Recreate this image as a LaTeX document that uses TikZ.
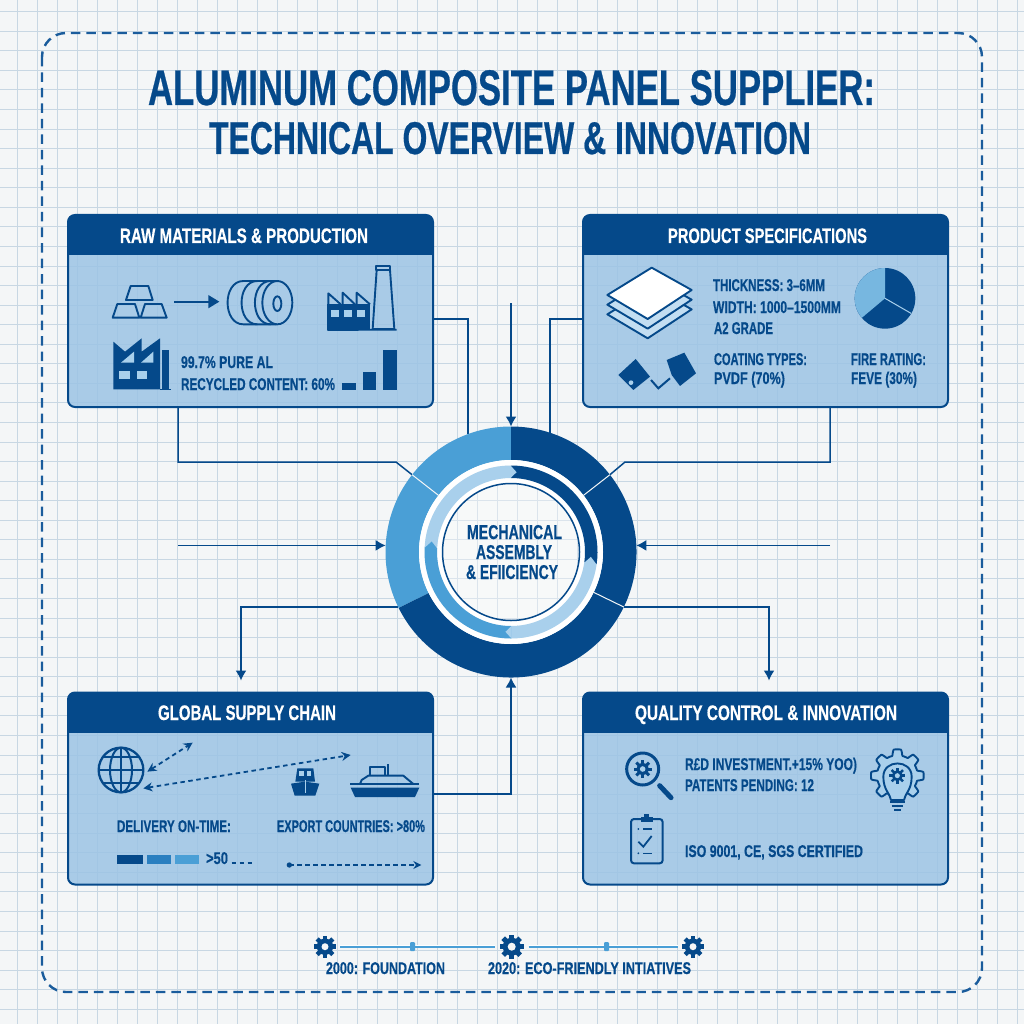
\documentclass[tikz,border=0pt]{standalone}
\usepackage{fontspec}
\usepackage{graphicx}
\setmainfont{Liberation Sans}[BoldFeatures={FakeBold=0.6}]
\usetikzlibrary{arrows.meta,calc}
\definecolor{navy}{HTML}{05498A}
\definecolor{midblue}{HTML}{2A7FC0}
\definecolor{sky}{HTML}{4A9FD6}
\definecolor{pale}{HTML}{A9D0EC}
\definecolor{panelfill}{HTML}{9CC4E5}
\definecolor{paper}{HTML}{F4F6F7}
\definecolor{gridc}{HTML}{C8D7E3}
\definecolor{framec}{HTML}{1A5C9C}
\newsavebox\tbox
% text fitted to a measured width: [colour]{name}{x}{baseline}{width}{size}{text}
\newcommand\lab[7][navy]{%
  \node (#2) [anchor=base west,inner sep=0pt,outer sep=0pt,text=#1] at (#3,#4) {%
    \sbox\tbox{\fontsize{#6}{#6}\selectfont\bfseries #7}%
    \pgfmathsetmacro\fx{#5/\wd\tbox}%
    \scalebox{\fx}[1]{\usebox\tbox}};}
\newcommand\sector[5]{\fill[#5] (#1:#3pt) arc[start angle=#1,end angle=#2,radius=#3pt] -- (#2:#4pt) arc[start angle=#2,end angle=#1,radius=#4pt] -- cycle;}
\newcommand\gearicon[8]{\begin{scope}[shift={(#1,#2)}]
  \fill[#7] (0,0) circle[radius=#3pt];
  \foreach \a in {0,45,...,315} {\draw[#7,line width=#5pt] (\a:0.7*#3pt) -- (\a:#4pt);}
  \fill[#8] (0,0) circle[radius=#6pt];
\end{scope}}
\newcommand\band[1]{%
  \fill[navy,rounded corners=7pt] (#1.north west) rectangle ([yshift=-20pt]#1.north east);
  \fill[navy] ([yshift=-10pt]#1.north west) rectangle ([yshift=-40pt]#1.north east);}
\tikzset{
  panelbox/.style={draw=navy,line width=2pt,rounded corners=7pt,fill=panelfill,fill opacity=.85,
    minimum width=365pt,minimum height=192pt,inner sep=0pt,outer sep=0pt},
  wire/.style={draw=navy,line width=1.5pt},
  wirearrow/.style={wire,-{Latex[length=10pt,width=11pt]}},
  ic/.style={draw=navy,line width=1.9pt,line join=round},
  dotarrow/.style={draw=navy,line width=1.8pt,dash pattern=on 4.5pt off 3.5pt},
  iconscope/.style={shift={#1},x=0.33333pt,y=-0.33333pt}
}
\begin{document}
\begin{tikzpicture}[x=1pt,y=-1pt]
\useasboundingbox (0,0) rectangle (1024,1024);
\fill[paper] (0,0) rectangle (1024,1024);
\foreach \i in {0,...,50} {\draw[gridc,line width=.9pt] ({17.6+20*\i},0) -- ({17.6+20*\i},1024);}
\foreach \i in {0,...,52} {\draw[gridc,line width=.9pt] (0,{11.7+19.56*\i}) -- (1024,{11.7+19.56*\i});}
\draw[framec,line width=2.4pt,dash pattern=on 9.5pt off 6pt,rounded corners=24pt] (42,33) rectangle (982,992);
% title
\lab{title1}{148}{105}{727}{50}{ALUMINUM COMPOSITE PANEL SUPPLIER:}
\lab{title2}{209}{154}{602}{46}{TECHNICAL OVERVIEW \& INNOVATION}
% panels
\node (raw)  [panelbox] at (250.5,311) {};
\node (spec) [panelbox] at (765.5,311) {};
\node (glob) [panelbox] at (250.5,788.5) {};
\node (qual) [panelbox] at (765.5,788.5) {};
\band{raw}\band{spec}\band{glob}\band{qual}
\lab[white]{rawT}{120}{243}{248}{21}{RAW MATERIALS \& PRODUCTION}
\lab[white]{specT}{668}{243}{199}{21}{PRODUCT SPECIFICATIONS}
\lab[white]{globT}{158}{720}{178}{21}{GLOBAL SUPPLY CHAIN}
\lab[white]{qualT}{635}{720}{262}{21}{QUALITY CONTROL \& INNOVATION}
% hub and connectors
\node (hub) [circle,minimum size=251pt,inner sep=0pt,outer sep=0pt] at (511,552) {};
\coordinate (topfree) at (511,303);
\coordinate (leftfree) at (178,545.5);
\coordinate (rightfree) at (830,545.5);
\coordinate (bendL) at (396,462);
\coordinate (bendR) at (625,462);
\draw[wire] ([yshift=-8pt]raw.east) -| (hub.110);
\draw[wire] ([yshift=-8pt]spec.west) -| (hub.72);
\draw[wirearrow] (topfree) -- (hub.north);
\draw[wire] ([xshift=-72.5pt]raw.south) |- (bendL) -- (hub.142);
\draw[wire] ([xshift=64.5pt]spec.south) |- (bendR) -- (hub.38);
\draw[wirearrow] (leftfree |- hub.177) -- (hub.177);
\draw[wirearrow] (rightfree |- hub.3) -- (hub.3);
\draw[wirearrow] (hub.206.5) -| ([xshift=-9.5pt,yshift=12pt]glob.north);
\draw[wirearrow] (hub.-26) -| ([xshift=3.5pt,yshift=12pt]qual.north);
\draw[wirearrow] ([yshift=-5.5pt]glob.east) -| (hub.south);
% ring
\begin{scope}[shift={(511,552)},x=1pt,y=1pt]
  \fill[white,opacity=.35] (0,0) circle[radius=92pt];
  \sector{90}{206.5}{125.5}{92}{sky}
  \sector{206.5}{450}{125.5}{92}{navy}
  \fill[white,even odd rule] (0,0) circle[radius=92pt] (0,0) circle[radius=86.5pt];
  \fill[white,even odd rule] (0,0) circle[radius=74pt] (0,0) circle[radius=69pt];
  \sector{-8}{90}{86.5}{74}{navy}
  \sector{-90}{-8}{86.5}{74}{pale}
  \sector{177}{270}{86.5}{74}{sky}
  \sector{90}{177}{86.5}{74}{pale}
  \fill[pale] (90.3:86.5pt) -- (86:80pt) -- (90.3:74pt) -- cycle;
  \fill[pale] (-8.3:86.5pt) -- (-3.5:80pt) -- (-8.3:74pt) -- cycle;
  \fill[pale] (-89.7:86.5pt) -- (-94:80pt) -- (-89.7:74pt) -- cycle;
  \fill[sky] (177.3:86.5pt) -- (172.5:80pt) -- (177.3:74pt) -- cycle;
  \draw[navy,line width=1.5pt] (0,0) circle[radius=68.5pt];
  \draw[paper,line width=1pt] (142:92pt) -- (142:125.5pt);
  \draw[paper,line width=1pt] (38:92pt) -- (38:125.5pt);
  \draw[paper,line width=1pt] (-26:92pt) -- (-26:125.5pt);
\end{scope}
\lab{hubA}{467}{539}{95}{20}{MECHANICAL}
\lab{hubB}{476}{559}{76}{20}{ASSEMBLY}
\lab{hubC}{466}{579}{92}{20}{\& EFIICIENCY}
% panel 1 icons
\begin{scope}[iconscope={(60,205)}]
  \draw[ic] (212,243) -- (265,243) -- (278,285) -- (198,285) -- cycle;
  \draw[ic] (172,297) -- (225,297) -- (238,338) -- (158,338) -- cycle;
  \draw[ic] (255,297) -- (305,297) -- (320,338) -- (242,338) -- cycle;
  \draw[navy,line width=2pt] (342,290) -- (450,290);
  \fill[navy] (478,290) -- (445,270) -- (445,310) -- cycle;
  \draw[ic] (650,228) -- (550,228) .. controls (487,228) and (487,358) .. (550,358) -- (650,358);
  \draw[ic] (652,293) ellipse [x radius=45,y radius=65];
  \draw[ic] (592,228) .. controls (529,228) and (529,358) .. (592,358);
  \draw[ic] (632,228) .. controls (569,228) and (569,358) .. (632,358);
  \draw[ic] (652,296) ellipse [x radius=12,y radius=22];
  % factory with chimney
  \draw[ic] (805,298) -- (805,265) -- (842,298);
  \draw[ic] (848,298) -- (848,263) -- (885,298);
  \draw[ic] (890,298) -- (890,263) -- (930,298);
  \fill[navy] (802,296) rectangle (930,375);
  \fill[pale] (813,316) rectangle (836,336);
  \fill[pale] (852,316) rectangle (876,336);
  \fill[pale] (892,316) rectangle (916,336);
  \draw[ic] (950,195) -- (990,195) -- (1003,372) -- (938,372) -- cycle;
  \draw[ic] (948,183) rectangle (990,195);
  \draw[navy,line width=1.8pt] (802,375) -- (1010,374);
  % factory filled
  \fill[navy] (160,410) -- (195,440) -- (245,400) -- (245,440) -- (300,400) -- (300,553) -- (160,553) -- cycle;
  \fill[pale] (183,473) -- (222,440) -- (222,473) -- cycle;
  \fill[pale] (243,473) -- (280,440) -- (280,473) -- cycle;
  \fill[pale] (178,497) rectangle (210,521);
  \fill[pale] (232,497) rectangle (262,521);
  \fill[navy] (305,435) rectangle (328,553);
  \draw[navy,line width=1.2pt] (300,553) -- (333,553);
  % bars
  \fill[navy] (847,533) rectangle (888,556);
  \fill[navy] (908,502) rectangle (949,556);
  \fill[navy] (969,436) rectangle (1010,556);
\end{scope}
\lab{a1}{181}{368}{92}{17}{99.7\% PURE AL}
\lab{a2}{181}{390}{154}{17}{RECYCLED CONTENT: 60\%}
% panel 2 icons
\begin{scope}[iconscope={(575,205)}]
  \draw[ic,fill=pale!70!white] (230,246) -- (350,313) -- (218,400) -- (97,328) -- cycle;
  \draw[ic,fill=pale!70!white] (230,217) -- (350,284) -- (218,371) -- (97,299) -- cycle;
  \draw[ic,fill=white] (230,188) -- (350,255) -- (218,342) -- (97,270) -- cycle;
  \fill[navy] (930,280) circle[radius=91];
  \fill[sky!75!white] (930,280) -- (930,189) arc[start angle=-90,end angle=-220,radius=91] -- cycle;
  \draw[pale,line width=1pt] (930,280) -- (1008,325);
  % swatches
  \fill[navy] (130,510) -- (182,462) -- (225,515) -- (175,555) -- cycle;
  \fill[pale] (168,533) circle[radius=7];
  \fill[navy] (275,465) -- (328,443) -- (363,505) -- (315,543) -- (290,510) -- cycle;
  \draw[navy,line width=2pt] (228,525) -- (250,550) -- (285,520);
\end{scope}
\lab{b1}{713}{291}{112}{17}{THICKNESS: 3–6MM}
\lab{b2}{713}{313}{128}{17}{WIDTH: 1000–1500MM}
\lab{b3}{714}{334}{59}{17}{A2 GRADE}
\lab{b4}{714}{365}{93}{17}{COATING TYPES:}
\lab{b5}{714}{384}{71}{17}{PVDF (70\%)}
\lab{b6}{851}{365}{75}{17}{FIRE RATING:}
\lab{b7}{851}{384}{66}{17}{FEVE (30\%)}
% panel 3 icons
\begin{scope}[iconscope={(60,685)}]
  \draw[navy,line width=2.3pt] (183,255) circle[radius=67];
  \draw[navy,line width=2pt] (183,255) ellipse [x radius=33,y radius=67];
  \draw[navy,line width=2pt] (183,188) -- (183,322);
  \draw[navy,line width=2pt] (116,255) -- (250,255);
  \draw[navy,line width=2pt] (130,215) -- (236,215);
  \draw[navy,line width=2pt] (130,295) -- (236,295);
  \coordinate (gA) at (262,260); \coordinate (gB) at (398,173);
  \coordinate (gC) at (250,310); \coordinate (gD) at (872,210);
  \draw[dotarrow,{Stealth[length=9pt,width=9pt]}-{Stealth[length=9pt,width=9pt]}] (gA) -- (gB);
  \draw[dotarrow,{Stealth[length=9pt,width=9pt]}-{Stealth[length=9pt,width=9pt]}] (gC) -- (gD);
  % small ship
  \fill[navy] (712,250) -- (760,250) -- (765,290) -- (706,290) -- cycle;
  \fill[pale] (718,258) rectangle (732,272);
  \fill[pale] (740,258) rectangle (754,272);
  \fill[navy] (693,296) -- (735,290) -- (778,296) -- (766,332) -- (704,332) -- cycle;
  \draw[pale,line width=.8pt] (735,285) -- (735,325);
  % big ship
  \draw[ic] (930,272) -- (930,247) -- (975,247) -- (975,272);
  \draw[ic] (985,272) -- (985,237);
  \draw[ic] (900,297) -- (905,285) -- (925,272) -- (1030,272) -- (1060,297);
  \draw[navy,line width=1.8pt] (870,298) -- (1078,298);
  \fill[navy] (872,308) -- (1078,308) -- (1065,336) -- (885,336) -- cycle;
  % bars
  \fill[navy] (170,511) rectangle (250,538);
  \fill[midblue] (262,511) rectangle (333,538);
  \fill[sky] (344,511) rectangle (416,538);
  \coordinate (dA) at (515,533); \coordinate (dB) at (585,533);
  \draw[dotarrow] (dA) -- (dB);
  \fill[navy] (688,540) circle[radius=8];
  \coordinate (dC) at (688,540); \coordinate (dD) at (1084,540);
  \draw[dotarrow,-{Stealth[length=8pt,width=8pt]}] (dC) -- (dD);
\end{scope}
\lab{c1}{117}{832}{114}{17}{DELIVERY ON-TIME:}
\lab{c2}{277}{832}{148}{17}{EXPORT COUNTRIES: >80\%}
\lab{c3}{206}{864}{22}{17}{>50}
% panel 4 icons
\begin{scope}[iconscope={(575,685)}]
  \draw[navy,line width=3pt] (203,252) circle[radius=48];
  \draw[navy,line width=5pt,line cap=round] (254,302) -- (288,338);
  \gearicon{203}{252}{6}{9}{3}{2.8}{navy}{pale}
  \begin{scope}[shift={(967,272)}]
    \draw[ic,fill=pale] plot[domain=0:360,samples=241] (\x:{70+9*max(-1,min(1,2.5*cos(8*\x)))}) -- cycle;
  \end{scope}
  \draw[ic,fill=pale] (948,345) .. controls (945,325) and (925,315) .. (925,275) .. controls (925,222) and (1010,222) .. (1010,275) .. controls (1010,315) and (990,325) .. (987,345) -- cycle;
  \gearicon{967}{272}{5.5}{8}{2.5}{2.5}{navy}{pale}
  \draw[navy,line width=1.8pt] (945,352) -- (990,352);
  \draw[navy,line width=1.8pt] (950,364) -- (985,364);
  \draw[navy,line width=1.8pt] (958,376) -- (977,376);
  \draw[navy,line width=2pt,rounded corners=3pt] (168,402) rectangle (263,535);
  \fill[navy] (197,397) rectangle (233,412);
  \fill[navy] (207,387) rectangle (222,397);
  \fill[navy] (190,432) circle[radius=3];
  \draw[navy,line width=1.5pt] (205,432) -- (232,432);
  \draw[navy,line width=1.8pt] (190,470) -- (205,485) -- (230,453);
  \fill[navy] (190,505) circle[radius=3];
  \draw[navy,line width=1.5pt] (205,505) -- (232,505);
\end{scope}
\lab{d1}{685}{770}{172}{17}{R£D INVESTMENT.+15\% YOO)}
\lab{d2}{685}{791}{129}{17}{PATENTS PENDING: 12}
\lab{d3}{685}{857}{178}{17}{ISO 9001, CE, SGS CERTIFIED}
% timeline
\coordinate (g1) at (325,946.7);
\coordinate (g2) at (511.7,946.7);
\coordinate (g3) at (693,946.7);
\draw[white,line width=3pt] ([xshift=15pt]g1) -- ([xshift=-17pt]g2);
\draw[white,line width=3pt] ([xshift=17pt]g2) -- ([xshift=-15pt]g3);
\draw[sky,line width=1.7pt] ([xshift=15pt]g1) -- ([xshift=-17pt]g2);
\draw[sky,line width=1.7pt] ([xshift=17pt]g2) -- ([xshift=-15pt]g3);
\fill[sky,rounded corners=1pt] (410,942) rectangle (415,951);
\fill[sky,rounded corners=1pt] (604,942) rectangle (609,951);
\gearicon{325}{946.7}{8.2}{11}{4.5}{3.5}{navy}{paper}
\gearicon{511.7}{946.7}{9}{12}{5}{4}{navy}{paper}
\gearicon{693}{946.7}{8.2}{11}{4.5}{3.5}{navy}{paper}
\lab{e1}{326}{974}{119}{17}{2000: FOUNDATION}
\lab{e2}{488}{974}{203}{17}{2020: ECO-FRIENDLY INTIATIVES}
\end{tikzpicture}
\end{document}
